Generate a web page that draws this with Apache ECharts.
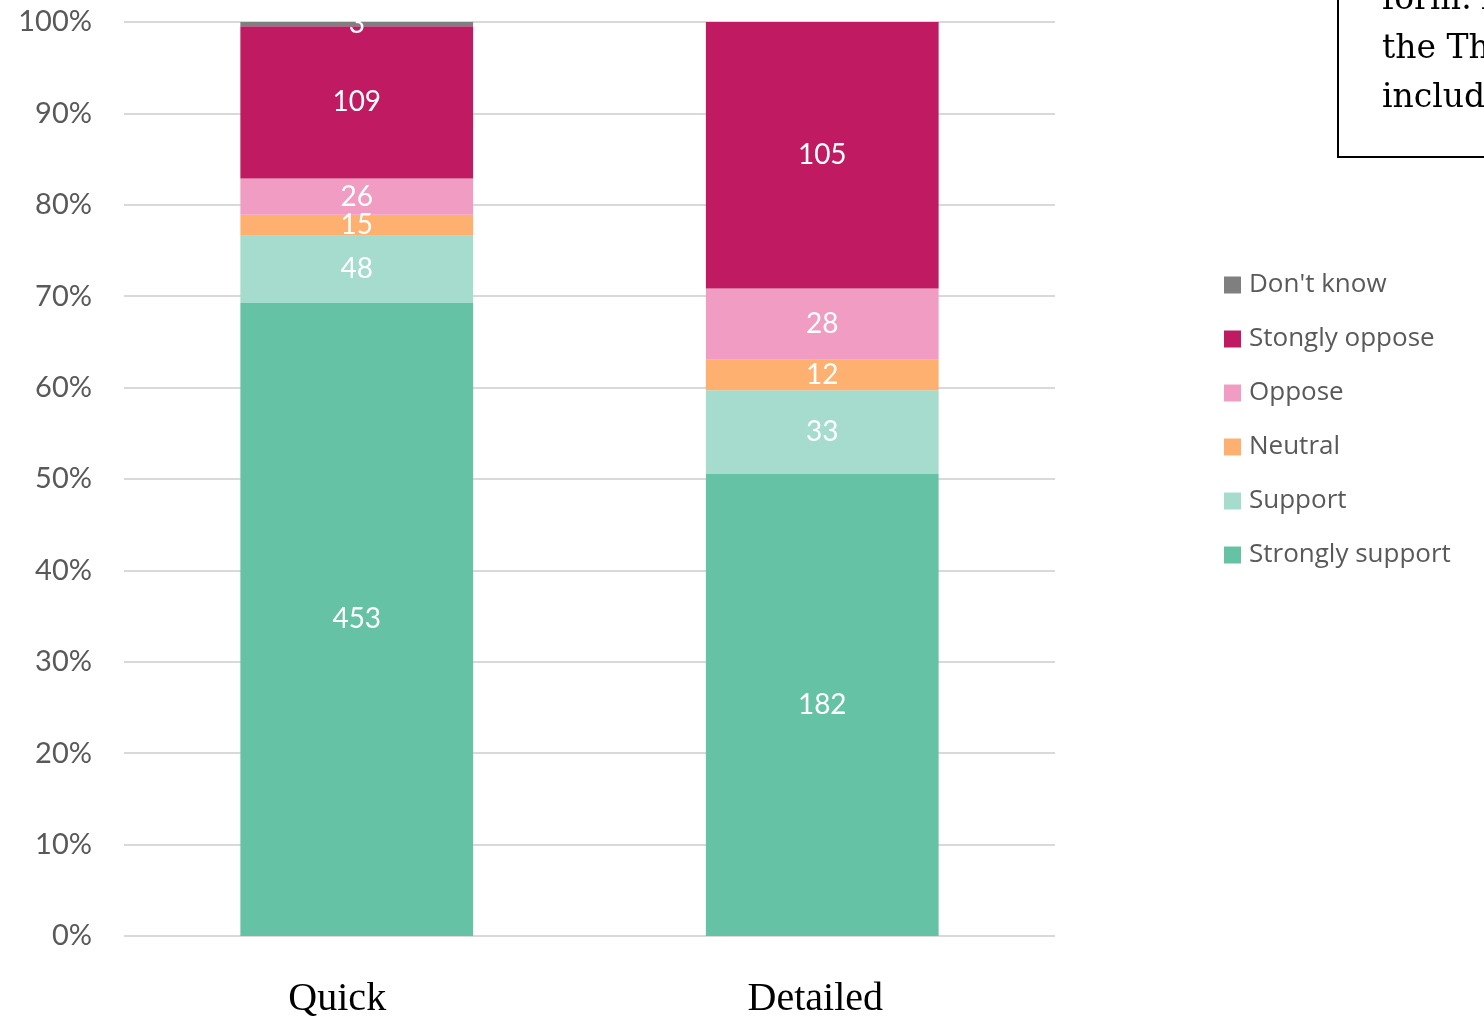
<!DOCTYPE html>
<html>
<head>
<meta charset="utf-8">
<script src="https://cdn.jsdelivr.net/npm/echarts@6/dist/echarts.min.js"></script>
<style>html,body{margin:0;padding:0;background:#fff}#c{width:1484px;height:1019px}</style>
</head>
<body>
<div id="c"></div>
<script>
const categories = ['Quick', 'Detailed'];
const seriesNames = ['Strongly support', 'Support', 'Neutral', 'Oppose', 'Stongly oppose', "Don't know"];
const stronglySupport = [453, 182];
const support = [48, 33];
const neutral = [15, 12];
const oppose = [26, 28];
const stronglyOppose = [109, 105];
const dontKnow = [3, 0];
const yTicks = ['0%','10%','20%','30%','40%','50%','60%','70%','80%','90%','100%'];
const boxLines = ['form. A', 'the Three', 'including'];

const counts = [stronglySupport, support, neutral, oppose, stronglyOppose, dontKnow];
const colors = ['#66c2a5', '#a6dccd', '#fdb06f', '#f19cc3', '#bf1a62', '#7f7f7f'];
const totals = categories.map((_, i) => counts.reduce((s, arr) => s + arr[i], 0));
const labelShift = [39, 14];

const sans = 'Lato';
const series = counts.map((arr, k) => ({
  name: seriesNames[k],
  type: 'bar',
  stack: 'all',
  barWidth: '50%',
  itemStyle: { color: colors[k] },
  data: arr.map((v, i) => ({ value: v / totals[i] * 100, count: v })),
  label: {
    show: true,
    position: 'inside',
    color: '#fff',
    fontFamily: sans,
    fontSize: 28,
    formatter: p => p.data.count > 0 ? String(p.data.count) : ''
  }
}));

const chart = echarts.init(document.getElementById('c'));
chart.setOption({
  animation: false,
  grid: { left: 124, right: 429, top: 22, bottom: 82, containLabel: false },
  legend: {
    orient: 'vertical',
    left: 1219,
    top: 267,
    data: seriesNames.slice().reverse(),
    itemWidth: 17,
    itemHeight: 17,
    itemGap: 28,
    icon: 'rect',
    textStyle: { color: '#595959', fontFamily: 'Open Sans', fontSize: 26, padding: [0,0,0,3] }
  },
  xAxis: {
    type: 'category',
    data: categories.map((c, i) => ({ value: c, textStyle: { padding: [0, labelShift[i], 0, 0] } })),
    axisLine: { show: false },
    axisTick: { show: false },
    axisLabel: {
      margin: 43,
      color: '#000',
      fontFamily: 'Liberation Serif',
      fontSize: 40
    }
  },
  yAxis: {
    type: 'value',
    min: 0,
    max: 100,
    interval: 10,
    axisLine: { show: false },
    axisTick: { show: false },
    splitLine: { lineStyle: { color: '#d9d9d9', width: 2 } },
    axisLabel: {
      margin: 32,
      color: '#595959',
      fontFamily: sans,
      fontSize: 29,
      formatter: v => yTicks[Math.round(v / 10)]
    }
  },
  series: series,
  graphic: [{
    type: 'group',
    left: 1337,
    top: -40,
    children: [
      { type: 'rect', shape: { x: 0, y: 0, width: 300, height: 196 }, style: { fill: '#fff', stroke: '#000', lineWidth: 2 } },
      ...boxLines.map((t, i) => ({
        type: 'text',
        style: { x: 44, y: 39 + i * 49, text: t, fill: '#000', font: '33px "DejaVu Serif"', textVerticalAlign: 'middle' }
      }))
    ]
  }]
});
</script>
</body>
</html>
